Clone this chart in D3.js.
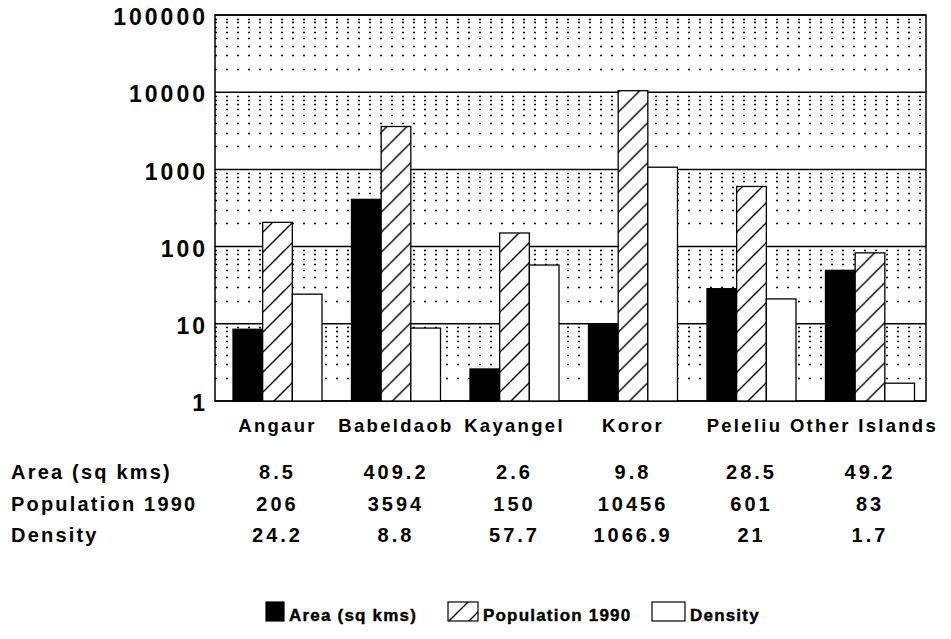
<!DOCTYPE html>
<html>
<head>
<meta charset="utf-8">
<script src="https://cdn.jsdelivr.net/npm/d3@7"></script>
<style>
  body { margin: 0; background: #fff; }
  text { font-family: "Liberation Sans", Arial, Helvetica, sans-serif; font-weight: bold; fill: #000; }
</style>
</head>
<body>
<svg id="chart" width="951" height="639"></svg>
<script>
// data
const islands = ["Angaur", "Babeldaob", "Kayangel", "Koror", "Peleliu", "Other Islands"];
const seriesNames = ["Area (sq kms)", "Population 1990", "Density"];
const area = [8.5, 409.2, 2.6, 9.8, 28.5, 49.2];
const population = [206, 3594, 150, 10456, 601, 83];
const density = [24.2, 8.8, 57.7, 1066.9, 21, 1.7];
const tableText = [
  ["8.5", "409.2", "2.6", "9.8", "28.5", "49.2"],
  ["206", "3594", "150", "10456", "601", "83"],
  ["24.2", "8.8", "57.7", "1066.9", "21", "1.7"]
];
const yTicks = [1, 10, 100, 1000, 10000, 100000];

const seriesValues = [area, population, density];
const fills = ["#000", "url(#hatch)", "#fff"];

const svg = d3.select("#chart");
const plotLeft = 215, plotRight = 926, plotTop = 15, plotBottom = 401;

// hatch pattern for population bars
const defs = svg.append("defs");
const pat = defs.append("pattern")
    .attr("id", "hatch")
    .attr("patternUnits", "userSpaceOnUse")
    .attr("width", 20).attr("height", 20);
pat.append("rect").attr("width", 20).attr("height", 20).attr("fill", "#fff");
pat.append("path")
    .attr("d", "M-5,5 L5,-5 M0,20 L20,0 M15,25 L25,15")
    .attr("stroke", "#000").attr("stroke-width", 1.4);

const y = d3.scaleLog().domain([1, 100000]).range([plotBottom, plotTop]);
const x0 = d3.scaleBand().domain(islands).range([plotLeft, plotRight]).padding(0);
const x1 = d3.scaleBand().domain(d3.range(3)).range([18, x0.bandwidth() - 11.5]).padding(0);
const center = d => x0(d) + 18 + (x0.bandwidth() - 29.5) / 2;

// dotted minor grid
const minors = [];
for (let dec = 1; dec < 100000; dec *= 10) {
  for (let k = 2; k <= 9; k++) minors.push(dec * k);
}
svg.append("g").selectAll("line")
  .data(minors)
  .join("line")
    .attr("x1", plotLeft).attr("x2", plotRight)
    .attr("y1", d => Math.round(y(d)) + 0.5).attr("y2", d => Math.round(y(d)) + 0.5)
    .attr("stroke", "#000")
    .attr("stroke-width", 1.3)
    .attr("stroke-dasharray", "2 9");

// solid decade lines
svg.append("g").selectAll("line")
  .data(yTicks)
  .join("line")
    .attr("x1", plotLeft).attr("x2", plotRight)
    .attr("y1", d => y(d)).attr("y2", d => y(d))
    .attr("stroke", "#000")
    .attr("stroke-width", 1.5);

// frame
svg.append("rect")
    .attr("x", plotLeft).attr("y", plotTop)
    .attr("width", plotRight - plotLeft).attr("height", plotBottom - plotTop)
    .attr("fill", "none").attr("stroke", "#000").attr("stroke-width", 1.5);

// bars
const groups = svg.append("g").selectAll("g")
  .data(islands)
  .join("g")
    .attr("transform", d => "translate(" + x0(d) + ",0)");

groups.selectAll("rect")
  .data((d, i) => seriesValues.map((s, j) => ({ s: j, v: s[i] })))
  .join("rect")
    .attr("x", d => x1(d.s))
    .attr("y", d => y(d.v))
    .attr("width", x1.bandwidth())
    .attr("height", d => plotBottom - y(d.v))
    .attr("fill", d => fills[d.s])
    .attr("stroke", "#000")
    .attr("stroke-width", 1.3);

// y axis labels
const yAxis = d3.axisLeft(y).tickValues(yTicks).tickFormat(d3.format("d")).tickSize(0).tickPadding(7);
const ya = svg.append("g").attr("transform", "translate(" + plotLeft + ",0)").call(yAxis);
ya.select(".domain").remove();
ya.attr("font-family", null).attr("font-size", null);
ya.selectAll("text")
    .attr("font-size", 23)
    .attr("letter-spacing", 3)
    .attr("dy", "0.42em");

// category labels (last two nudged left, as in the original)
const labelShift = [0, 0, 0, 0, -7, -6];
svg.append("g").selectAll("text")
  .data(islands)
  .join("text")
    .attr("x", (d, i) => center(d) + labelShift[i])
    .attr("y", 432)
    .attr("text-anchor", "middle")
    .attr("font-size", 18.5)
    .attr("letter-spacing", 2.3)
    .text(d => d);

// data table below
const rowY = [479, 511, 542];
seriesNames.forEach((name, r) => {
  svg.append("text")
      .attr("x", 11).attr("y", rowY[r])
      .attr("font-size", 20)
      .attr("letter-spacing", 2.2)
      .text(name);
  svg.append("g").selectAll("text")
    .data(islands)
    .join("text")
      .attr("x", d => center(d))
      .attr("y", rowY[r])
      .attr("text-anchor", "middle")
      .attr("font-size", 20)
      .attr("letter-spacing", 3)
      .text((d, i) => tableText[r][i]);
});

// legend
const legendX = [266, 448, 652];
const swatchW = [18, 30, 33];
const lg = svg.append("g").selectAll("g")
  .data(seriesNames)
  .join("g")
    .attr("transform", (d, i) => "translate(" + legendX[i] + ",602)");
lg.append("rect")
    .attr("width", (d, i) => swatchW[i]).attr("height", 19)
    .attr("fill", (d, i) => fills[i])
    .attr("stroke", "#000").attr("stroke-width", 1.2);
lg.append("text")
    .attr("x", (d, i) => swatchW[i] + 5).attr("y", 19)
    .attr("font-size", 17)
    .attr("font-weight", "normal")
    .attr("letter-spacing", 1.2)
    .attr("stroke", "#000").attr("stroke-width", 0.4)
    .text(d => d);
</script>
</body>
</html>
